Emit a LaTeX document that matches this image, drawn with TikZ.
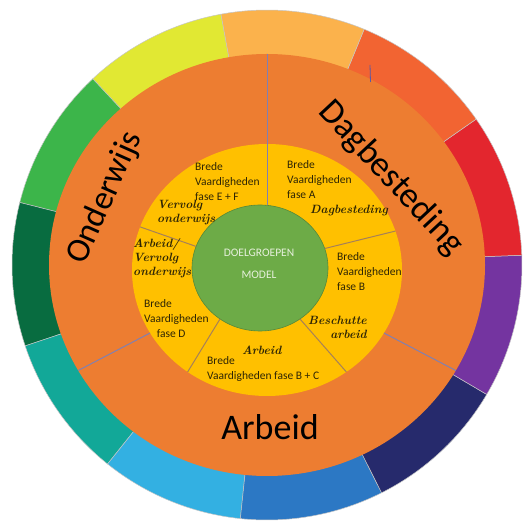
\documentclass[tikz,border=0pt]{standalone}
\usepackage{fontspec}
\newfontfamily\calib{Carlito}
\usetikzlibrary{calc}

\definecolor{ringorange}{HTML}{ED7D31}
\definecolor{ringyellow}{HTML}{FFC000}
\definecolor{ringgreen}{HTML}{6DAB47}
\definecolor{txt}{HTML}{2E2505}
\definecolor{centertxt}{HTML}{E6F0DC}
\definecolor{segLime}{HTML}{E1E833}
\definecolor{segPeach}{HTML}{FBB24C}
\definecolor{segRedOrange}{HTML}{F26432}
\definecolor{segRed}{HTML}{E3262E}
\definecolor{segPurple}{HTML}{7434A0}
\definecolor{segNavy}{HTML}{262A6C}
\definecolor{segBlue}{HTML}{2C78C4}
\definecolor{segSky}{HTML}{33B0E2}
\definecolor{segTeal}{HTML}{12A898}
\definecolor{segDarkGreen}{HTML}{086C40}
\definecolor{segGreen}{HTML}{3CB54A}

\tikzset{
  seg/.style={fill=#1, draw=gray!45, line width=0.5pt},
  ringline/.style={draw=gray!75!blue!80, line width=1pt},
  fieldline/.style={draw=brown!60!gray, line width=1pt},
  bigtext/.style={font=\calib\fontsize{34}{40}\selectfont, text=black, inner sep=0pt},
  smalltext/.style={font=\calib\fontsize{11.5}{15}\selectfont, text=txt, align=left, inner sep=0pt, anchor=north west},
  handtext/.style={font=\bfseries\itshape\fontsize{12}{14}\selectfont, text=txt, align=left, inner sep=0pt, anchor=north west}
}

\begin{document}
\begin{tikzpicture}[x=1pt, y=1pt]
    \useasboundingbox (0,0) rectangle (523,527);
    \coordinate (M) at (267,262);

    \begin{scope}[shift={(M)}]
    % buitenste ring: 11 kleurvlakken
    \fill[seg=segLime]      (0,0) -- (100.4:255) arc[start angle=100.4, end angle=133.1, radius=255] -- cycle;
    \fill[seg=segGreen]     (0,0) -- (133.1:255) arc[start angle=133.1, end angle=165.8, radius=255] -- cycle;
    \fill[seg=segDarkGreen] (0,0) -- (165.8:255) arc[start angle=165.8, end angle=198.5, radius=255] -- cycle;
    \fill[seg=segTeal]      (0,0) -- (198.5:255) arc[start angle=198.5, end angle=231.3, radius=255] -- cycle;
    \fill[seg=segSky]       (0,0) -- (231.3:255) arc[start angle=231.3, end angle=264.0, radius=255] -- cycle;
    \fill[seg=segBlue]      (0,0) -- (264.0:255) arc[start angle=264.0, end angle=296.7, radius=255] -- cycle;
    \fill[seg=segNavy]      (0,0) -- (296.7:255) arc[start angle=296.7, end angle=329.5, radius=255] -- cycle;
    \fill[seg=segPurple]    (0,0) -- (329.5:255) arc[start angle=329.5, end angle=362.2, radius=255] -- cycle;
    \fill[seg=segRed]       (0,0) -- (2.2:255)   arc[start angle=2.2,   end angle=34.9,  radius=255] -- cycle;
    \fill[seg=segRedOrange] (0,0) -- (34.9:255)  arc[start angle=34.9,  end angle=67.6,  radius=255] -- cycle;
    \fill[seg=segPeach]     (0,0) -- (67.6:255)  arc[start angle=67.6,  end angle=100.4, radius=255] -- cycle;

    % oranje ring, gele ring en groene kern
    \fill[ringorange] (0,0) ellipse [x radius=218, y radius=211];
    \fill[ringyellow] (0,-5) ellipse [x radius=135, y radius=126];
    \filldraw[fill=ringgreen, draw=ringgreen!80!black, line width=0.6pt] (-7,-3) ellipse [x radius=68, y radius=63];

    % scheidingslijnen oranje ring
    \draw[ringline] (0,60) -- (0,211);
    \draw[ringline] ($(0,-5)+(-30:135 and 126)$) -- (-30:218 and 211);
    \draw[ringline] ($(0,-5)+(210:135 and 126)$) -- (210:218 and 211);

    % scheidingslijnen gele ring
    \draw[fieldline] ($(-7,-3)+(18:68 and 63)$) -- ($(0,-5)+(18:135 and 126)$);
    \draw[fieldline] ($(-7,-3)+(-54:68 and 63)$) -- ($(0,-5)+(-54:135 and 126)$);
    \draw[fieldline] ($(-7,-3)+(234:68 and 63)$) -- ($(0,-5)+(234:135 and 126)$);
    \draw[fieldline] ($(-7,-3)+(160:68 and 63)$) -- ($(0,-5)+(160:135 and 126)$);
    \end{scope}

    % streepje in het rood-oranje vlak
    \draw[gray!70!blue, line width=0.8pt] (370,462) -- (370.5,445);

    % grote titels
    \node[bigtext, rotate=66] (onderwijs) at (105,329) {Onderwijs};
    \node[bigtext, font=\calib\fontsize{35.5}{40}\selectfont, rotate=-47] (dagbesteding) at (391,349) {Dagbesteding};
    \node[bigtext, font=\calib\fontsize{36}{40}\selectfont, anchor=base] (arbeid) at (270,87) {Arbeid};

    % kern
    \node[font=\calib\fontsize{11.5}{22}\selectfont, text=centertxt, align=center] (kern) at (259,263) {DOELGROEPEN\\MODEL};

    % velden
    \node[smalltext] (faseEF) at (195,365) {Brede\\Vaardigheden\\fase E + F};
    \node[handtext] (vervolg) at (157,327) {Vervolg\\onderwijs};
    \node[smalltext] (faseA) at (287,367) {Brede\\Vaardigheden\\fase A};
    \node[handtext] (dagb) at (310,322) {Dagbesteding};
    \node[smalltext] (faseB) at (337,275) {Brede\\Vaardigheden\\fase B};
    \node[handtext, align=right, anchor=north east] (beschut) at (367,211) {Beschutte\\arbeid};
    \node[handtext] (arb) at (242,181) {Arbeid};
    \node[smalltext] (faseBC) at (207,171) {Brede\\Vaardigheden fase B + C};
    \node[smalltext] (faseD) at (144,228) {Brede\\Vaardigheden\\\hspace*{1.1em}fase D};
    \node[handtext] (arbvervolg) at (133,289) {Arbeid/\\Vervolg\\onderwijs};
\end{tikzpicture}
\end{document}
